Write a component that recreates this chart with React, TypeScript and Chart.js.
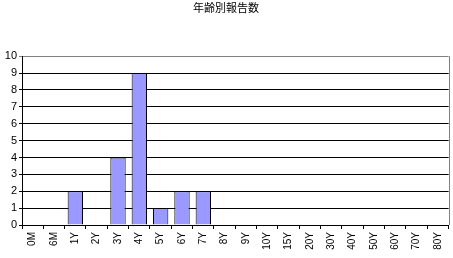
import React, { useEffect, useRef } from "react";
import { Chart, registerables } from "chart.js";

Chart.register(...registerables);

const categories = ["0M", "6M", "1Y", "2Y", "3Y", "4Y", "5Y", "6Y", "7Y", "8Y", "9Y", "10Y", "15Y", "20Y", "30Y", "40Y", "50Y", "60Y", "70Y", "80Y"];
const reports = [0, 0, 2, 0, 4, 9, 1, 2, 2, 0, 0, 0, 0, 0, 0, 0, 0, 0, 0, 0];
const yTicks = [0, 1, 2, 3, 4, 5, 6, 7, 8, 9, 10];
const title = "年齢別報告数";

const FONT = "'Liberation Sans', 'Noto Sans CJK JP', sans-serif";

// Gray frame on the right edge of the plot
const rightBorder = {
  id: "rightBorder",
  afterDraw(chart: any) {
    const { ctx, chartArea } = chart;
    ctx.save();
    ctx.strokeStyle = "#808080";
    ctx.lineWidth = 1;
    ctx.beginPath();
    ctx.moveTo(Math.round(chartArea.right) + 0.5, chartArea.top);
    ctx.lineTo(Math.round(chartArea.right) + 0.5, chartArea.bottom);
    ctx.stroke();
    ctx.restore();
  },
};

export default function App() {
  const ref = useRef<HTMLCanvasElement>(null);
  useEffect(() => {
    document.body.style.margin = "0";
    const chart = new Chart(ref.current!, {
      type: "bar",
      data: {
        labels: categories,
        datasets: [
          {
            data: reports,
            backgroundColor: "#9999FF",
            borderColor: "#000000",
            borderWidth: 1,
            barPercentage: 0.72,
            categoryPercentage: 1,
          },
        ],
      },
      plugins: [rightBorder],
      options: {
        animation: false,
        responsive: false,
        layout: { padding: { top: 0, right: 1, left: 0, bottom: 0 } },
        plugins: {
          legend: { display: false },
          tooltip: { enabled: false },
          title: {
            display: true,
            text: title,
            color: "#000",
            font: { family: "'Noto Sans CJK JP', sans-serif", size: 11, weight: "normal" },
            padding: { top: 1, bottom: 42 },
          },
        },
        scales: {
          x: {
            offset: true,
            grid: {
              display: true,
              drawOnChartArea: false,
              drawTicks: true,
              tickLength: 4,
              color: "#000",
              offset: true,
            },
            border: { color: "#000" },
            ticks: {
              color: "#000",
              font: { family: FONT, size: 10 },
              minRotation: 90,
              maxRotation: 90,
              autoSkip: false,
              padding: 3,
            },
            afterFit(scale: any) {
              scale.height = 33;
            },
          },
          y: {
            min: 0,
            max: 10,
            afterBuildTicks(scale: any) {
              scale.ticks = yTicks.map((v) => ({ value: v }));
            },
            grid: {
              color: (c: any) => (c.tick && c.tick.value === 10 ? "#808080" : "#000"),
              tickLength: 3,
              lineWidth: 1,
            },
            border: { color: "#000" },
            ticks: {
              color: "#000",
              font: { family: FONT, size: 11 },
              padding: 2,
            },
            afterFit(scale: any) {
              scale.width = 22;
            },
          },
        },
      },
    });
    return () => chart.destroy();
  }, []);
  return (
    <div style={{ position: "fixed", left: 0, top: 0, width: 453, height: 258, background: "#fff" }}>
      <canvas ref={ref} width={453} height={258} />
    </div>
  );
}
